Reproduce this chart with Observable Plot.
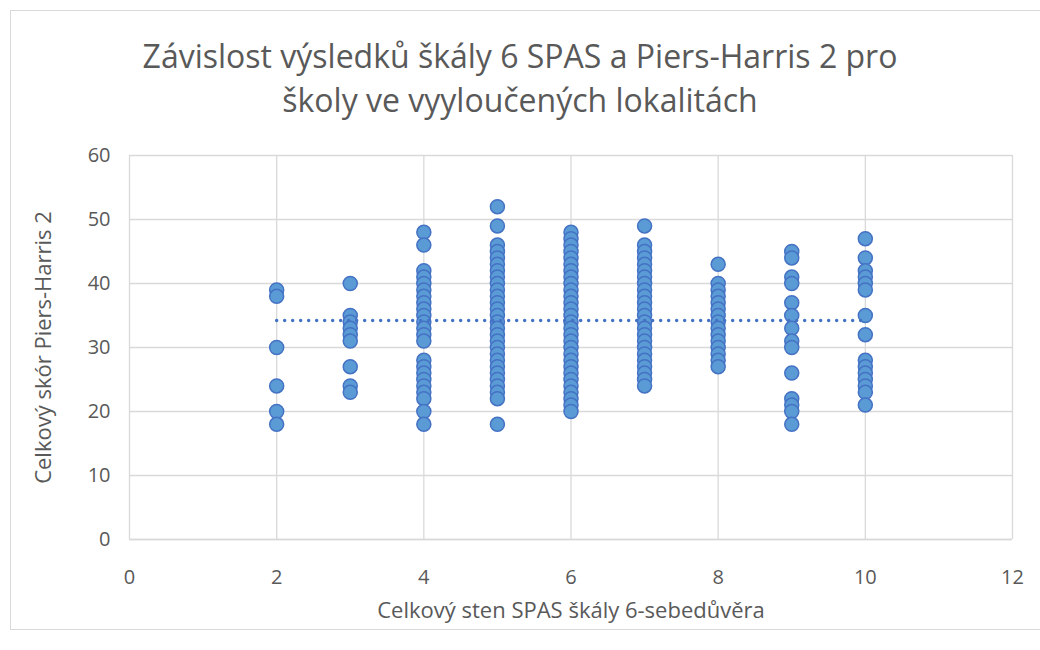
<!DOCTYPE html>
<html>
<head>
<meta charset="utf-8">
<script src="https://cdn.jsdelivr.net/npm/d3@7"></script>
<script src="https://cdn.jsdelivr.net/npm/@observablehq/plot@0.6"></script>
<style>
  body { margin: 0; background: #fff; }
  #wrap { position: relative; width: 1040px; height: 650px; overflow: hidden; font-family: "Liberation Sans Narrow", "Open Sans", sans-serif; color: #595959; }
  #frame { position: absolute; left: 10px; top: 10px; width: 1040px; height: 620px; border: 1px solid #d9d9d9; pointer-events: none; box-sizing: border-box; }
  #title { height: 140px; box-sizing: border-box; padding-top: 34px; text-align: center; font-size: 32px; line-height: 44px; color: #595959; }
  svg { display: block; }
</style>
</head>
<body>
<div id="wrap">
  <div id="frame"></div>
  <div id="title">Závislost výsledků škály 6 SPAS a Piers-Harris 2 pro<br>školy ve vyyloučených lokalitách</div>
  <div id="chart"></div>
</div>
<script>
// Celkový sten SPAS (x) -> Piers-Harris 2 scores (y)
const sten2 = [39, 38, 30, 24, 20, 18];
const sten3 = [40, 35, 34, 33, 32, 31, 27, 24, 23];
const sten4 = [48, 46, 42, 41, 40, 39, 38, 37, 36, 35, 34, 33, 32, 31, 28, 27, 26, 25, 24, 23, 22, 20, 18];
const sten5 = [52, 49, 46, 45, 44, 43, 42, 41, 40, 39, 38, 37, 36, 35, 34, 33, 32, 31, 30, 29, 28, 27, 26, 25, 24, 23, 22, 18];
const sten6 = [48, 47, 46, 45, 44, 43, 42, 41, 40, 39, 38, 37, 36, 35, 34, 33, 32, 31, 30, 29, 28, 27, 26, 25, 24, 23, 22, 21, 20];
const sten7 = [49, 46, 45, 44, 43, 42, 41, 40, 39, 38, 37, 36, 35, 34, 33, 32, 31, 30, 29, 28, 27, 26, 25, 24];
const sten8 = [43, 40, 39, 38, 37, 36, 35, 34, 33, 32, 31, 30, 29, 28, 27];
const sten9 = [45, 44, 41, 40, 37, 35, 33, 31, 30, 26, 22, 21, 20, 18];
const sten10 = [47, 44, 42, 41, 40, 39, 35, 32, 28, 27, 26, 25, 24, 23, 21];

const stenValues = [2, 3, 4, 5, 6, 7, 8, 9, 10];
const columns = [sten2, sten3, sten4, sten5, sten6, sten7, sten8, sten9, sten10];

// linear trendline (nearly flat)
const trendX = [2, 10];
const trendY = [34.2, 34.2];

const xTicks = [0, 2, 4, 6, 8, 10, 12];
const yTicks = [0, 10, 20, 30, 40, 50, 60];

const points = [];
columns.forEach((col, i) => col.forEach(v => points.push({x: stenValues[i], y: v})));
const trend = trendX.map((x, i) => ({x, y: trendY[i]}));

const chart = Plot.plot({
  width: 1040,
  height: 510,
  marginTop: 15,
  marginBottom: 111,
  marginLeft: 129,
  marginRight: 28,
  style: { fontFamily: '"Liberation Sans Narrow", "Open Sans", sans-serif', color: "#595959", background: "transparent" },
  x: { domain: [0, 12] },
  y: { domain: [0, 60] },
  marks: [
    Plot.gridX(xTicks, { stroke: "#d9d9d9", strokeOpacity: 1, strokeWidth: 1.3 }),
    Plot.gridY(yTicks, { stroke: "#d9d9d9", strokeOpacity: 1, strokeWidth: 1.3 }),
    Plot.ruleY([0], { stroke: "#d9d9d9", strokeWidth: 1.3 }),
    Plot.axisX(xTicks, { tickSize: 0, tickPadding: 30, fontSize: 20, label: "Celkový sten SPAS škály 6-sebedůvěra", labelAnchor: "center", labelArrow: "none", labelOffset: 78 }),
    Plot.axisY(yTicks, { tickSize: 0, tickPadding: 19, fontSize: 20, label: "Celkový skór Piers-Harris 2", labelAnchor: "center", labelArrow: "none", labelOffset: 94 }),
    Plot.dot(points, { x: "x", y: "y", r: 7, fill: "#5b9bd5", stroke: "#4472c4", strokeWidth: 1.5 }),
    Plot.line(trend, { x: "x", y: "y", stroke: "#4472c4", strokeWidth: 3.5, strokeDasharray: "0 8", strokeLinecap: "round" })
  ]
});
chart.querySelectorAll('g[aria-label="x-axis label"] text, g[aria-label="y-axis label"] text').forEach(t => t.setAttribute("font-size", "22"));
document.getElementById("chart").appendChild(chart);
</script>
</body>
</html>
